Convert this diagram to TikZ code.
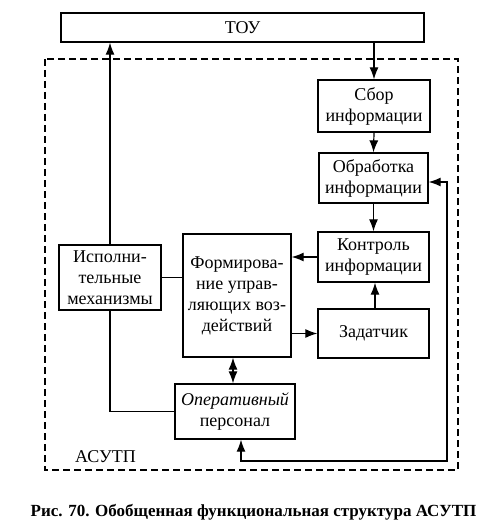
\documentclass[tikz,border=0pt]{standalone}
\usepackage{fontspec}
\setmainfont{Liberation Serif}
\usetikzlibrary{arrows.meta}
\begin{document}
\begin{tikzpicture}[x=1pt,y=-1pt,
  blk/.style={draw,line width=1.3pt,align=center,inner sep=1pt,font=\fontsize{18}{21}\selectfont},
  conn/.style={line width=1.2pt},
  tip/.tip={Latex[length=12pt,width=9pt]},
  arr/.style={conn,-tip},
  darr/.style={conn,tip-tip}]
\useasboundingbox (0,0) rectangle (479,532);
\node[blk,minimum width=363pt,minimum height=29pt] (tou) at (242.5,27.5) {ТОУ};
\draw[line width=1.2pt,dash pattern=on 7pt off 4pt] (45,59) rectangle (458,470);
\node[blk,minimum width=112pt,minimum height=52pt] (sbor) at (374,106) {Сбор\\информации};
\node[blk,minimum width=109pt,minimum height=50pt] (obr) at (373.5,178) {Обработка\\информации};
\node[blk,minimum width=111pt,minimum height=50pt] (kon) at (373.5,257) {Контроль\\информации};
\node[blk,minimum width=108pt,minimum height=123pt] (form) at (237,295.5) {Формирова-\\ние управ-\\ляющих воз-\\действий};
\node[blk,minimum width=102pt,minimum height=65pt] (isp) at (110,277.5) {Исполни-\\тельные\\механизмы};
\node[blk,minimum width=111pt,minimum height=49pt] (zad) at (373.5,333.5) {Задатчик};
\node[blk,minimum width=120pt,minimum height=55pt] (oper) at (235,411.5) {\itshape Оперативный\\персонал};
\node[font=\fontsize{18}{21}\selectfont,anchor=west,inner sep=0pt] (asutp) at (75,457) {АСУТП};
\node[font=\fontsize{17}{20}\bfseries\selectfont,inner sep=0pt] (cap) at (253.5,512) {Рис. 70. Обобщенная функциональная структура АСУТП};
\coordinate (fb1) at (241,461);
\coordinate (fb2) at (447,461);
\coordinate (fb3) at (447,182);
\draw[arr] (isp.north) -- (isp.north |- tou.south);
\draw[conn] (isp.south) |- (oper.west);
\draw[conn] (isp.east) -- (form.west |- isp.east);
\draw[arr] (kon.west) -- (form.east |- kon.west);
\draw[arr] (form.east |- zad.west) -- (zad.west);
\draw[arr] (zad.north -| 375,0) -- (kon.south -| 375,0);
\draw[darr] (form.south -| 233,0) -- (oper.north -| 233,0);
\draw[arr] (sbor.north |- tou.south) -- (sbor.north);
\draw[arr] (sbor.south) -- (obr.north);
\draw[arr] (obr.south) -- (kon.north);
\draw[darr] (oper.south -| fb1) -- (fb1) -- (fb2) -- (fb3) -- (obr.east |- fb3);
\end{tikzpicture}
\end{document}
